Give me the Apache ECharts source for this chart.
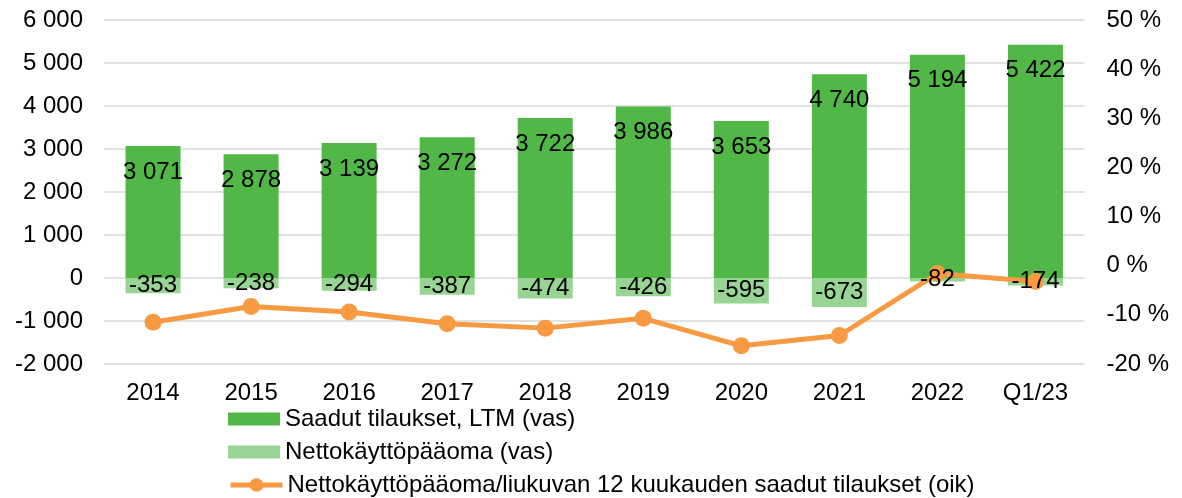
<!DOCTYPE html>
<html>
<head>
<meta charset="utf-8">
<script src="https://cdn.jsdelivr.net/npm/echarts@6/dist/echarts.min.js"></script>
<style>
html, body { margin: 0; padding: 0; background: #fff; }
#chart { width: 1182px; height: 498px; }
</style>
</head>
<body>
<div id="chart"></div>
<script>
const categories = ['2014', '2015', '2016', '2017', '2018', '2019', '2020', '2021', '2022', 'Q1/23']
const orders = [3071, 2878, 3139, 3272, 3722, 3986, 3653, 4740, 5194, 5422]
const nwc = [-353, -238, -294, -387, -474, -426, -595, -673, -82, -174]
const ratio = [-11.5, -8.3, -9.4, -11.8, -12.7, -10.7, -16.3, -14.2, -1.6, -3.2]

const names = [
    'Saadut tilaukset, LTM (vas)',
    'Nettokäyttöpääoma (vas)',
    'Nettokäyttöpääoma/liukuvan 12 kuukauden saadut tilaukset (oik)'
]
const font = 'Liberation Sans, Arial, sans-serif'
const fmt = v => String(v).replace(/\B(?=(\d{3})+(?!\d))/g, ' ')
const green = '#51B848', lightGreen = '#98D594', orange = '#F79A42'

// one legend per row, stacked under the axis
let legendTops = [407, 440, 473]
let legends = names.map((n, i) => ({
    orient: 'vertical',
    left: 228,
    top: legendTops[i],
    padding: 0,
    itemWidth: 52,
    itemHeight: i < 2 ? 13 : 17,
    textStyle: { fontSize: 24, color: '#000', fontFamily: font },
    data: [i < 2 ? { name: n, icon: 'rect' } : { name: n, lineStyle: { width: 5 } }]
}))

let labelStyle = { show: true, fontSize: 24, color: '#000', formatter: p => fmt(p.value) }

const chart = echarts.init(document.getElementById('chart'))
chart.setOption({
    animation: false,
    textStyle: { fontFamily: font },
    grid: { left: 104, right: 97.5, top: 20, bottom: 134 },
    legend: legends,
    xAxis: {
        type: 'category',
        data: categories,
        axisLine: { show: false, onZero: false },
        axisTick: { show: false },
        axisLabel: { fontSize: 24, color: '#000', margin: 17 }
    },
    yAxis: [
        {
            type: 'value',
            min: -2000, max: 6000, interval: 1000,
            axisLabel: { fontSize: 24, color: '#000', margin: 21, formatter: v => fmt(v) },
            splitLine: { lineStyle: { color: '#D9D9D9', width: 1.5 } }
        },
        {
            type: 'value',
            min: -20, max: 50, interval: 10,
            axisLabel: { fontSize: 24, color: '#000', margin: 22, formatter: '{value} %' },
            splitLine: { show: false }
        }
    ],
    series: [
        {
            name: names[0],
            type: 'bar',
            stack: 'a',
            barWidth: 55,
            data: orders,
            itemStyle: { color: green }
        },
        {
            name: names[1],
            type: 'bar',
            stack: 'a',
            barWidth: 55,
            barGap: '-100%',
            data: nwc,
            itemStyle: { color: lightGreen }
        },
        {
            name: names[2],
            type: 'line',
            yAxisIndex: 1,
            data: ratio,
            symbol: 'circle',
            symbolSize: 17,
            lineStyle: { color: orange, width: 5 },
            itemStyle: { color: orange },
            z: 5
        },
        // transparent copies that carry the value labels above the line
        {
            name: 'labels-orders',
            type: 'bar',
            stack: 'b',
            barWidth: 55,
            barGap: '-100%',
            data: orders,
            itemStyle: { color: 'rgba(0,0,0,0)' },
            label: Object.assign({ position: 'insideTop', distance: 14 }, labelStyle),
            silent: true,
            z: 10
        },
        {
            name: 'labels-nwc',
            type: 'bar',
            stack: 'b',
            barWidth: 55,
            barGap: '-100%',
            data: nwc,
            itemStyle: { color: 'rgba(0,0,0,0)' },
            label: Object.assign({ position: 'inside' }, labelStyle),
            silent: true,
            z: 10
        }
    ]
})
</script>
</body>
</html>
